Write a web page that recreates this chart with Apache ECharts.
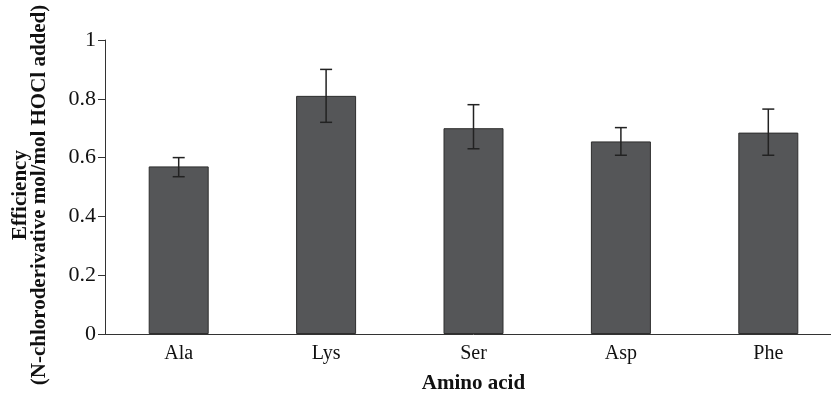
<!DOCTYPE html>
<html>
<head>
<meta charset="utf-8">
<script src="https://cdn.jsdelivr.net/npm/echarts@6/dist/echarts.min.js"></script>
<style>
    html, body { margin: 0; padding: 0; background: #fff; overflow: hidden; }
    /* the original plot runs a little past the right edge of the picture */
    #chart { width: 843px; height: 410px; }
</style>
</head>
<body>
<div id="chart"></div>
<script>
    // data
    var aminoAcids = ['Ala', 'Lys', 'Ser', 'Asp', 'Phe'];
    var efficiency = [0.57, 0.81, 0.70, 0.655, 0.685];
    var errLow = [0.535, 0.72, 0.63, 0.608, 0.608];
    var errHigh = [0.60, 0.90, 0.78, 0.702, 0.765];
    var yTicks = [0, 0.2, 0.4, 0.6, 0.8, 1];

    var font = '"Liberation Serif", "Times New Roman", serif';
    var myChart = echarts.init(document.getElementById('chart'));

    var errData = aminoAcids.map(function (c, i) {
        return [i, errLow[i], errHigh[i]];
    });

    option = {
        animation: false,
        grid: {
            left: 105,
            right: 1,
            top: 40,
            bottom: 76,
            outerBoundsMode: 'none'
        },
        // y title placed by hand, it sits a bit below the plot centre in the original
        graphic: [{
            type: 'text',
            x: 30,
            y: 195,
            rotation: Math.PI / 2,
            style: {
                text: 'Efficiency\n(N-chloroderivative mol/mol HOCl added)',
                font: 'bold 21px ' + font,
                fill: '#111',
                align: 'center',
                verticalAlign: 'middle',
                lineHeight: 19
            }
        }],
        xAxis: {
            type: 'category',
            data: aminoAcids,
            name: 'Amino acid',
            nameLocation: 'middle',
            nameGap: 39,
            nameTextStyle: { fontFamily: font, fontSize: 21, fontWeight: 'bold', color: '#111' },
            axisLine: { lineStyle: { color: '#333', width: 1 } },
            axisTick: { length: 7, lineStyle: { color: '#333' } },
            axisLabel: { fontFamily: font, fontSize: 20, color: '#111', margin: 10 }
        },
        yAxis: {
            type: 'value',
            min: yTicks[0],
            max: yTicks[yTicks.length - 1],
            interval: 0.2,
            splitLine: { show: false },
            axisLine: { show: true, lineStyle: { color: '#333', width: 1 } },
            axisTick: { show: true, length: 7, lineStyle: { color: '#333' } },
            axisLabel: { fontFamily: font, fontSize: 22, color: '#111', margin: 9 }
        },
        series: [
            {
                type: 'bar',
                data: efficiency,
                barWidth: 60,
                itemStyle: { color: '#555658', borderColor: '#2e2e2e', borderWidth: 1 }
            },
            {
                type: 'custom',
                data: errData,
                z: 10,
                renderItem: function (params, api) {
                    var x = api.value(0);
                    var lo = api.coord([x, api.value(1)]);
                    var hi = api.coord([x, api.value(2)]);
                    var cap = 6;
                    var st = { stroke: '#222', lineWidth: 1.5 };
                    return {
                        type: 'group',
                        children: [
                            { type: 'line', shape: { x1: hi[0], y1: hi[1], x2: lo[0], y2: lo[1] }, style: st },
                            { type: 'line', shape: { x1: hi[0] - cap, y1: hi[1], x2: hi[0] + cap, y2: hi[1] }, style: st },
                            { type: 'line', shape: { x1: lo[0] - cap, y1: lo[1], x2: lo[0] + cap, y2: lo[1] }, style: st }
                        ]
                    };
                }
            }
        ]
    };

    myChart.setOption(option);
</script>
</body>
</html>
